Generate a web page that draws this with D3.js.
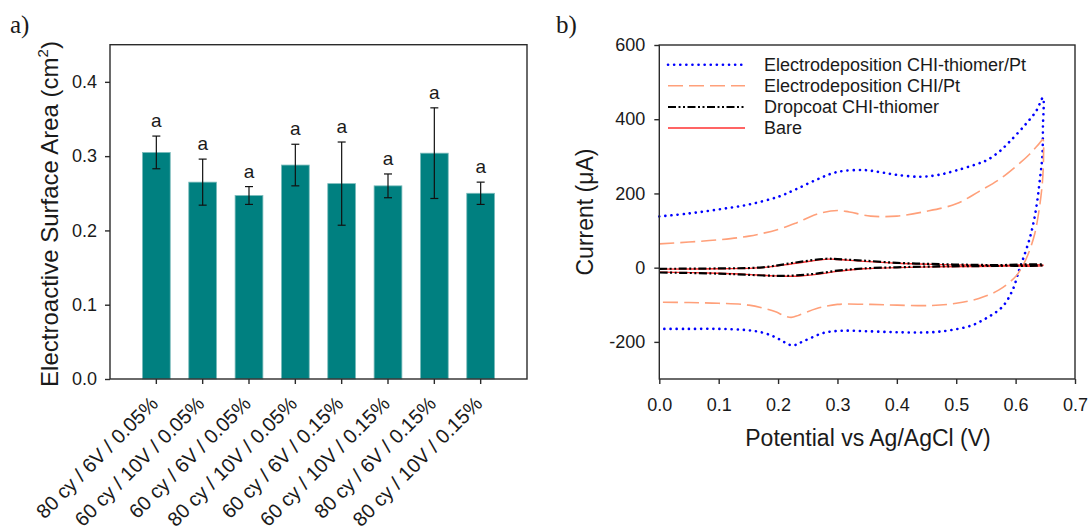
<!DOCTYPE html>
<html>
<head>
<meta charset="utf-8">
<script src="https://cdn.jsdelivr.net/npm/d3@7"></script>
<style>body{margin:0;background:#fff}</style>
</head>
<body>
<script>
// panel a) data
const categories = ["80 cy / 6V / 0.05%", "60 cy / 10V / 0.05%", "60 cy / 6V / 0.05%", "80 cy / 10V / 0.05%",
  "60 cy / 6V / 0.15%", "60 cy / 10V / 0.15%", "80 cy / 6V / 0.15%", "80 cy / 10V / 0.15%"];
const areaMeans = [0.305, 0.265, 0.247, 0.288, 0.263, 0.260, 0.304, 0.250];
const areaErrors = [0.022, 0.031, 0.012, 0.028, 0.056, 0.016, 0.061, 0.015];
const groupLetters = ["a", "a", "a", "a", "a", "a", "a", "a"];
const areaTicks = [0, 0.1, 0.2, 0.3, 0.4];

// panel b) data: [potential V, current uA], forward scan then reverse scan
const thiomerPt = [[0,138],[0.05,146],[0.1,157],[0.15,170],[0.2,191],[0.23,211],[0.266,238],[0.3,258],[0.344,263],
  [0.373,257],[0.4,250],[0.44,245],[0.47,250],[0.5,262],[0.538,281],[0.552,290],[0.572,312],[0.589,338],[0.615,383],
  [0.635,423],[0.646,458],[0.646,380],[0.645,300],[0.641,240],[0.636,175],[0.63,120],[0.623,75],[0.612,21],[0.606,-6],
  [0.595,-60],[0.578,-105],[0.555,-132],[0.527,-155],[0.492,-168],[0.458,-174],[0.401,-174],[0.344,-171],[0.305,-170],
  [0.276,-176],[0.253,-191],[0.236,-203],[0.225,-210],[0.212,-202],[0.196,-188],[0.174,-175],[0.145,-168],[0.1,-165],
  [0.05,-165],[0,-165]];
const chiPt = [[0,64],[0.05,69],[0.1,75],[0.151,85],[0.2,103],[0.23,120],[0.265,144],[0.3,154],[0.32,150],[0.356,139],
  [0.4,139],[0.447,151],[0.5,172],[0.538,205],[0.572,237],[0.6,272],[0.623,305],[0.64,335],[0.646,345],[0.647,300],
  [0.645,228],[0.639,150],[0.632,90],[0.622,40],[0.612,5],[0.6,-24],[0.572,-60],[0.538,-83],[0.5,-96],[0.458,-102],
  [0.401,-101],[0.356,-99],[0.3,-99],[0.265,-110],[0.235,-128],[0.222,-134],[0.208,-128],[0.196,-119],[0.151,-101],
  [0.1,-96],[0.05,-94],[0,-93]];
const dropcoat = [[0,-3],[0.1,-2],[0.174,1],[0.23,14],[0.281,24],[0.3,23],[0.344,19],[0.4,13],[0.458,10],[0.515,8],
  [0.572,7],[0.646,8],[0.646,7],[0.572,5],[0.458,3],[0.4,1],[0.344,-2],[0.3,-8],[0.265,-16],[0.23,-21],[0.196,-22],
  [0.145,-19],[0.1,-16],[0,-13]];
const bare = [[0,-4],[0.1,-3],[0.174,0],[0.23,12],[0.285,23],[0.3,22],[0.344,17],[0.4,12],[0.458,9],[0.515,7],
  [0.572,6],[0.646,7],[0.646,6],[0.572,4],[0.458,2],[0.4,0],[0.344,-3],[0.3,-10],[0.265,-18],[0.23,-23],[0.196,-22],
  [0.145,-18],[0.1,-15],[0,-12]];
const legendLabels = ["Electrodeposition CHI-thiomer/Pt", "Electrodeposition CHI/Pt", "Dropcoat CHI-thiomer", "Bare"];
const currentTicks = [-200, 0, 200, 400, 600];
const potentialTicks = [0, 0.1, 0.2, 0.3, 0.4, 0.5, 0.6, 0.7];

const FONT = "'Liberation Sans', Arial, sans-serif";
const INK = "#1a1a1a";

function init() {
  const svg = d3.select("body").append("svg")
    .attr("width", 1090)
    .attr("height", 529)
    .style("background-color", "#fff");

  // ---------- a) bar chart ----------
  const xA = d3.scaleBand().domain(categories).range([110, 527]).paddingInner(0.4).paddingOuter(0.7);
  const yA = d3.scaleLinear().domain([0, 0.45]).range([379, 44.7]);

  svg.append("g").selectAll("rect")
    .data(areaMeans)
    .join("rect")
    .attr("x", (d, i) => xA(categories[i]))
    .attr("y", d => yA(d))
    .attr("width", xA.bandwidth())
    .attr("height", d => yA(0) - yA(d))
    .attr("fill", "#008080")
    .attr("stroke", "#7dbcbc")
    .attr("stroke-width", 0.8);

  const err = svg.append("g").attr("stroke", "#111").attr("stroke-width", 1.2);
  areaMeans.forEach((m, i) => {
    const cx = xA(categories[i]) + xA.bandwidth() / 2;
    const lo = yA(m - areaErrors[i]), hi = yA(m + areaErrors[i]);
    err.append("line").attr("x1", cx).attr("x2", cx).attr("y1", lo).attr("y2", hi);
    err.append("line").attr("x1", cx - 4).attr("x2", cx + 4).attr("y1", lo).attr("y2", lo);
    err.append("line").attr("x1", cx - 4).attr("x2", cx + 4).attr("y1", hi).attr("y2", hi);
    svg.append("text")
      .attr("x", cx)
      .attr("y", hi - 9)
      .attr("text-anchor", "middle")
      .attr("font-family", FONT)
      .attr("font-size", "19px")
      .attr("fill", INK)
      .text(groupLetters[i]);
  });

  const gyA = svg.append("g")
    .attr("transform", "translate(110,0)")
    .call(d3.axisLeft(yA).tickValues(areaTicks).tickFormat(d3.format(".1f")).tickSize(5).tickPadding(8).tickSizeOuter(0));
  const gxA = svg.append("g")
    .attr("transform", "translate(0,379)")
    .call(d3.axisBottom(xA).tickSize(5).tickSizeOuter(0).tickFormat(""));
  gxA.selectAll(".tick").append("text")
    .attr("transform", "translate(3,26) rotate(-45)")
    .attr("text-anchor", "end")
    .attr("fill", INK)
    .attr("font-size", "20px")
    .attr("font-family", FONT)
    .text(d => d);

  svg.append("rect")
    .attr("x", 110).attr("y", 44.7).attr("width", 417).attr("height", 334.3)
    .attr("fill", "none").attr("stroke", "#2b2b2b").attr("stroke-width", 1.4);

  const yTitleA = svg.append("text")
    .attr("transform", "translate(58,214) rotate(-90)")
    .attr("text-anchor", "middle")
    .attr("font-family", FONT)
    .attr("font-size", "24px")
    .attr("fill", INK);
  yTitleA.append("tspan").text("Electroactive Surface Area (cm");
  yTitleA.append("tspan").attr("font-size", "15px").attr("dy", "-10").text("2");
  yTitleA.append("tspan").attr("dy", "10").text(")");

  svg.append("text")
    .attr("x", 10).attr("y", 33)
    .attr("font-family", "'Liberation Serif', 'Times New Roman', serif")
    .attr("font-size", "25px")
    .attr("fill", INK)
    .text("a)");

  // ---------- b) cyclic voltammograms ----------
  const xB = d3.scaleLinear().domain([0, 0.7]).range([659.3, 1075]);
  const yB = d3.scaleLinear().domain([-300, 600]).range([379, 45]);
  const line = d3.line().x(d => xB(d[0])).y(d => yB(d[1])).curve(d3.curveCatmullRom.alpha(0.5));

  const styles = [
    { data: thiomerPt, color: "#0000ff", width: 2.6, dash: "0.1 6", cap: "round" },
    { data: chiPt, color: "#ffa07a", width: 1.6, dash: "15 6", cap: "butt" },
    { data: bare, color: "#ff3030", width: 1.4, dash: null, cap: "butt" },
    { data: dropcoat, color: "#000", width: 2.2, dash: "8 2.5 2 2.5 2 2.5", cap: "butt" }
  ];
  styles.forEach(s => {
    svg.append("path")
      .attr("d", line(s.data))
      .attr("fill", "none")
      .attr("stroke", s.color)
      .attr("stroke-width", s.width)
      .attr("stroke-linecap", s.cap)
      .attr("stroke-dasharray", s.dash);
  });

  const gyB = svg.append("g")
    .attr("transform", "translate(659.3,0)")
    .call(d3.axisLeft(yB).tickValues(currentTicks).tickFormat(d => String(d)).tickSize(5).tickPadding(9).tickSizeOuter(0));
  const gxB = svg.append("g")
    .attr("transform", "translate(0,379)")
    .call(d3.axisBottom(xB).tickValues(potentialTicks).tickFormat(d3.format(".1f")).tickSize(5).tickPadding(14).tickSizeOuter(0));

  [gyA, gxA, gyB, gxB].forEach(g => {
    g.attr("font-size", 18).attr("font-family", FONT);
    g.select(".domain").remove();
    g.selectAll(".tick line").attr("stroke", "#2b2b2b").attr("stroke-width", 1.4);
    g.selectAll(".tick text").attr("fill", INK);
  });

  svg.append("rect")
    .attr("x", 659.3).attr("y", 45).attr("width", 415.7).attr("height", 334)
    .attr("fill", "none").attr("stroke", "#2b2b2b").attr("stroke-width", 1.4);

  // legend
  const legendRows = [64.8, 85.7, 107, 128];
  legendLabels.forEach((label, i) => {
    const s = styles[[0, 1, 3, 2][i]];
    svg.append("line")
      .attr("x1", 668).attr("x2", 745)
      .attr("y1", legendRows[i]).attr("y2", legendRows[i])
      .attr("stroke", s.color)
      .attr("stroke-width", s.width)
      .attr("stroke-linecap", s.cap)
      .attr("stroke-dasharray", s.dash);
    svg.append("text")
      .attr("x", 764).attr("y", legendRows[i])
      .attr("dy", "0.35em")
      .attr("font-family", FONT)
      .attr("font-size", "18px")
      .attr("fill", INK)
      .text(label);
  });

  svg.append("text")
    .attr("transform", "translate(593,212) rotate(-90)")
    .attr("text-anchor", "middle")
    .attr("font-family", FONT)
    .attr("font-size", "23px")
    .attr("fill", INK)
    .text("Current (\u03BCA)");

  svg.append("text")
    .attr("x", 868).attr("y", 446)
    .attr("text-anchor", "middle")
    .attr("font-family", FONT)
    .attr("font-size", "23px")
    .attr("fill", INK)
    .text("Potential vs Ag/AgCl (V)");

  svg.append("text")
    .attr("x", 556).attr("y", 33)
    .attr("font-family", "'Liberation Serif', 'Times New Roman', serif")
    .attr("font-size", "25px")
    .attr("fill", INK)
    .text("b)");
}

init();
</script>
</body>
</html>
